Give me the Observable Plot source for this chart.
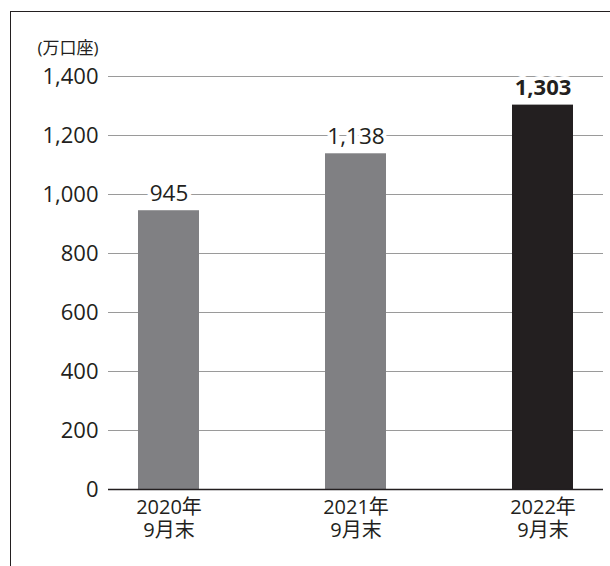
<!DOCTYPE html>
<html>
<head>
<meta charset="utf-8">
<script src="https://cdn.jsdelivr.net/npm/d3@7"></script>
<script src="https://cdn.jsdelivr.net/npm/@observablehq/plot@0.6"></script>
<style>
  html, body { margin: 0; padding: 0; background: #fff; }
  #wrap { position: relative; width: 610px; height: 566px; overflow: hidden; }
  #frame { position: absolute; left: 10px; top: 11px; width: 640px; height: 600px;
           border-top: 1.5px solid #231f20; border-left: 1.5px solid #231f20; pointer-events: none; }
</style>
</head>
<body>
<div id="wrap"><div id="frame"></div></div>
<script>
// Data
const years = ["2020年", "2021年", "2022年"];
const months = ["9月末", "9月末", "9月末"];
const values = [945, 1138, 1303];
const unitLabel = "(万口座)";
const yTicks = [0, 200, 400, 600, 800, 1000, 1200, 1400];
const highlightIndex = 2;

const data = years.map((y, i) => ({ cat: y + "\n" + months[i], value: values[i], hi: i === highlightIndex }));

const gray = "#808083";
const dark = "#231f20";
const fmt = d3.format(",");

const chart = Plot.plot({
  width: 610,
  height: 566,
  marginLeft: 108,
  marginRight: 7,
  marginTop: 76,
  marginBottom: 77,
  style: { fontFamily: "'Open Sans', 'Noto Sans CJK JP', sans-serif", color: dark, background: "transparent" },
  x: { domain: data.map(d => d.cat), paddingInner: 0.674, paddingOuter: 0.16, label: null },
  y: { domain: [0, 1400], label: null },
  marks: [
    Plot.gridY(yTicks.filter(t => t > 0), { stroke: "#9a9a9a", strokeOpacity: 1, strokeWidth: 1 }),
    Plot.axisY(yTicks, { tickSize: 0, tickPadding: 10, fontSize: 22, tickFormat: fmt, fill: dark }),
    Plot.axisX({ tickSize: 0, tickPadding: 8, fontSize: 20, lineHeight: 1.16, fill: dark }),
    Plot.barY(data, { x: "cat", y: "value", fill: d => d.hi ? dark : gray }),
    Plot.ruleY([0], { stroke: dark, strokeWidth: 1.3 }),
    Plot.text(data.filter(d => !d.hi), { x: "cat", y: "value", text: d => fmt(d.value), dy: -17, fontSize: 22.5, fill: dark, stroke: "white", strokeWidth: 8 }),
    Plot.text(data.filter(d => d.hi), { x: "cat", y: "value", text: d => fmt(d.value), dy: -17, fontSize: 22, fontWeight: "bold", fill: dark, stroke: "white", strokeWidth: 8 }),
    Plot.text([unitLabel], { frameAnchor: "top-left", dx: -10, dy: -35, textAnchor: "end", fontSize: 17, fill: dark })
  ]
});
document.getElementById("wrap").insertBefore(chart, document.getElementById("frame"));
</script>
</body>
</html>
